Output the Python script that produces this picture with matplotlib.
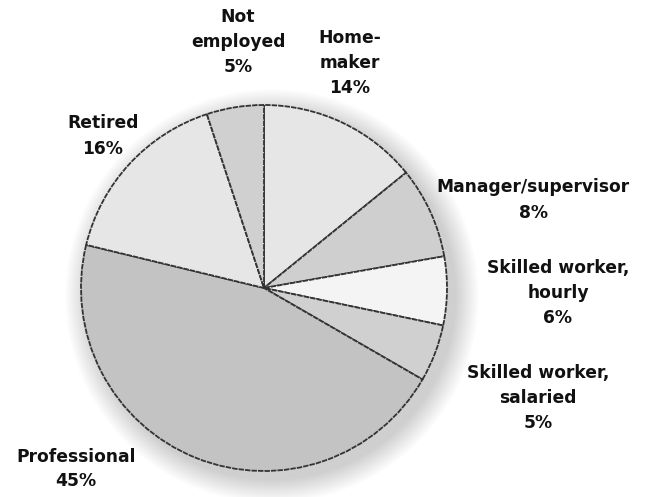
import matplotlib.pyplot as plt
from matplotlib.patches import Circle

# --- Veri ---
labels = ["Home-\nmaker", "Manager/supervisor", "Skilled worker,\nhourly",
          "Skilled worker,\nsalaried", "Professional", "Retired", "Not\nemployed"]
shares = [14, 8, 6, 5, 45, 16, 5]
colors = ["#e6e6e6", "#cfcfcf", "#f4f4f4", "#d0d0d0", "#c3c3c3", "#e6e6e6", "#d0d0d0"]

# label centres in pixel coords (x, y from top)
label_pos = [(350, 63), (533, 200), (558, 293), (538, 398), (76, 469), (103, 136), (238, 42)]

W, H = 655, 497
CX, CY, R = 264, 288, 183

fig = plt.figure(figsize=(W / 100, H / 100), dpi=100)
ax = fig.add_axes([0, 0, 1, 1])
ax.set_xlim(0, W)
ax.set_ylim(0, H)
ax.set_aspect("equal")
ax.axis("off")

# soft shadow to the lower right
for i in range(24):
    ax.add_patch(Circle((CX + 8, H - CY - 8), R + 24 - i, color="black",
                        alpha=0.008, lw=0, zorder=0))

ax.pie(shares, colors=colors, startangle=90, counterclock=False,
       center=(CX, H - CY), radius=R,
       wedgeprops=dict(edgecolor="#333333", linewidth=1.3, linestyle=(0, (3, 0.6))))
ax.set_xlim(0, W)
ax.set_ylim(0, H)

for lab, s, (x, y) in zip(labels, shares, label_pos):
    ax.text(x, H - y, f"{lab}\n{s}%", ha="center", va="center",
            fontsize=12.3, fontweight="bold", color="#111111",
            family="DejaVu Sans", linespacing=1.5)

plt.savefig("out.png", dpi=100)
plt.close()
